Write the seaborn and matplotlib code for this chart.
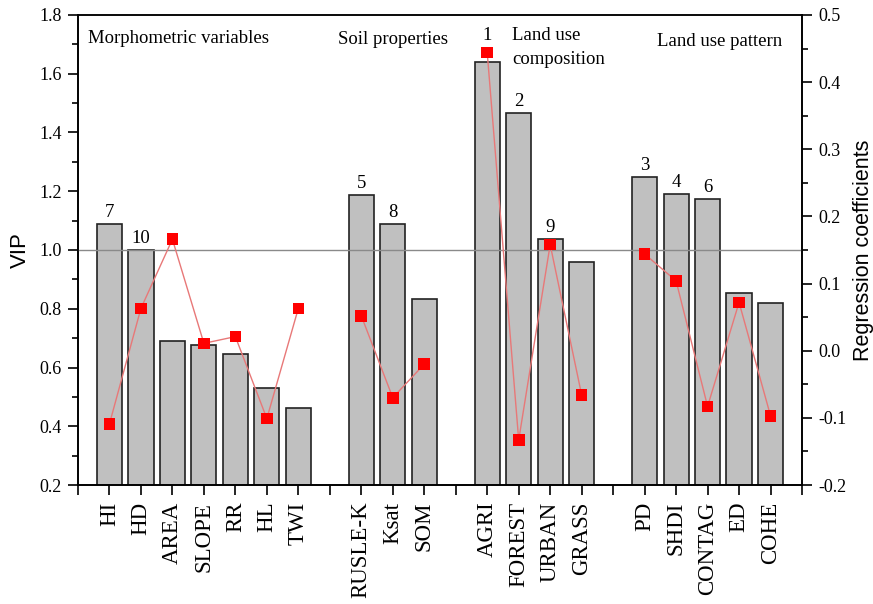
import numpy as np
import pandas as pd
import matplotlib
matplotlib.use("Agg")
import matplotlib.pyplot as plt
import seaborn as sns
from matplotlib.ticker import MultipleLocator, FormatStrFormatter

# ---------------- data ----------------
group_names = ["Morphometric variables", "Soil properties",
               "Land use\ncomposition", "Land use pattern"]
morph_vars = ["HI", "HD", "AREA", "SLOPE", "RR", "HL", "TWI"]
soil_vars = ["RUSLE-K", "Ksat", "SOM"]
comp_vars = ["AGRI", "FOREST", "URBAN", "GRASS"]
pattern_vars = ["PD", "SHDI", "CONTAG", "ED", "COHE"]

vip_morph = [1.090, 1.000, 0.690, 0.677, 0.646, 0.530, 0.461]
vip_soil = [1.187, 1.089, 0.833]
vip_comp = [1.641, 1.467, 1.037, 0.959]
vip_pattern = [1.247, 1.190, 1.175, 0.855, 0.819]

coef_morph = [-0.109, 0.063, 0.166, 0.011, 0.021, -0.101, 0.063]
coef_soil = [0.052, -0.070, -0.020]
coef_comp = [0.444, -0.133, 0.158, -0.066]
coef_pattern = [0.144, 0.104, -0.083, 0.072, -0.097]

rank_morph = ["7", "10", "", "", "", "", ""]
rank_soil = ["5", "8", ""]
rank_comp = ["1", "2", "9", ""]
rank_pattern = ["3", "4", "6", "", ""]

# ---------------- build table ----------------
group_vars = [morph_vars, soil_vars, comp_vars, pattern_vars]
group_vip = [vip_morph, vip_soil, vip_comp, vip_pattern]
group_coef = [coef_morph, coef_soil, coef_comp, coef_pattern]
group_rank = [rank_morph, rank_soil, rank_comp, rank_pattern]

rows = []
pos = 1
for gi, (vs, vp, cf, rk) in enumerate(zip(group_vars, group_vip, group_coef, group_rank)):
    for v, a, b, r in zip(vs, vp, cf, rk):
        rows.append(dict(var=v, group=gi, pos=pos, vip=a, coef=b, rank=r))
        pos += 1
    pos += 1  # gap slot between groups
df = pd.DataFrame(rows)
xmax = pos - 1

VIP_LIM = (0.2, 1.8)
COEF_LIM = (-0.2, 0.5)

serif = ["Liberation Serif", "DejaVu Serif"]
sans = ["Liberation Sans", "DejaVu Sans"]

plt.rcParams["font.family"] = serif

fig = plt.figure(figsize=(8.73, 6.04), dpi=100)
fig.patch.set_facecolor("white")
ax = fig.add_axes([0.0893, 0.197, 0.8294, 0.7782])

sns.barplot(data=df, x="pos", y="vip", native_scale=True, width=0.8,
            color="#c0c0c0", saturation=1, edgecolor="#222222", linewidth=1.2,
            errorbar=None, ax=ax, zorder=2)

ax.axhline(1.0, color="#8a8a8a", lw=1.0, zorder=3)

ax2 = ax.twinx()
sns.lineplot(data=df, x="pos", y="coef", units="group", estimator=None,
             color="#e87878", lw=1.0, sort=False, ax=ax2, zorder=4)
sns.scatterplot(data=df, x="pos", y="coef", marker="s", color="#ff0000",
                s=70, edgecolor="none", linewidth=0, ax=ax2, zorder=5)

# axes limits & ticks
ax.set_xlim(0, xmax)
ax.set_ylim(*VIP_LIM)
ax2.set_ylim(*COEF_LIM)

labels = [""] * (xmax + 1)
for p, v in zip(df["pos"], df["var"]):
    labels[p] = v
ax.set_xticks(range(xmax + 1))
ax.set_xticklabels(labels, rotation=90, fontsize=16.5, family=serif)

ax.yaxis.set_major_locator(MultipleLocator(0.2))
ax.yaxis.set_minor_locator(MultipleLocator(0.1))
ax.yaxis.set_major_formatter(FormatStrFormatter("%.1f"))
ax2.yaxis.set_major_locator(MultipleLocator(0.1))
ax2.yaxis.set_minor_locator(MultipleLocator(0.05))
ax2.yaxis.set_major_formatter(FormatStrFormatter("%.1f"))

ax.tick_params(axis="x", direction="out", length=7, width=1.2, pad=5, top=False)
ax.tick_params(axis="y", which="major", direction="out", length=7.5, width=1.2,
               pad=4, labelsize=13)
ax.tick_params(axis="y", which="minor", direction="out", length=4, width=1.2)
ax2.tick_params(axis="y", which="major", direction="out", length=7.5, width=1.2,
                pad=4, labelsize=13)
ax2.tick_params(axis="y", which="minor", direction="out", length=4, width=1.2)
for t in ax.get_yticklabels() + ax2.get_yticklabels():
    t.set_family(serif)

for a in (ax, ax2):
    for s in a.spines.values():
        s.set_linewidth(1.2)
        s.set_color("black")
ax.spines["top"].set_color("#333333")

ax.set_xlabel("")
ax2.set_xlabel("")
ax.set_ylabel("VIP", fontsize=16, family=sans, labelpad=6)
ax2.set_ylabel("Regression coefficients", fontsize=15.5, family=sans, labelpad=5)

# rank labels
px_per_vip = (ax.get_window_extent().height) / (VIP_LIM[1] - VIP_LIM[0])
marker_half = 5.5 / px_per_vip
for _, r in df.iterrows():
    if not r["rank"]:
        continue
    vip_eq = VIP_LIM[0] + (r["coef"] - COEF_LIM[0]) / (COEF_LIM[1] - COEF_LIM[0]) * (VIP_LIM[1] - VIP_LIM[0])
    anchor = r["vip"]
    if vip_eq + marker_half > anchor:
        anchor = vip_eq + marker_half
    ax.annotate(r["rank"], (r["pos"], anchor), xytext=(0, 5),
                textcoords="offset points", ha="center", va="baseline",
                fontsize=13.5, family=serif, zorder=6)

# group labels
group_label_x = [0.32, 8.25, 13.78, 18.38]
group_label_y = [0.951, 0.947, 0.974, 0.9426]
group_label_va = ["center", "center", "top", "center"]
for name, gx, gy, va in zip(group_names, group_label_x, group_label_y, group_label_va):
    ax.text(gx, gy, name, transform=ax.get_xaxis_transform(), ha="left", va=va,
            fontsize=13.5, family=serif, linespacing=1.55)

fig.savefig("out.png", dpi=100, facecolor="white")
